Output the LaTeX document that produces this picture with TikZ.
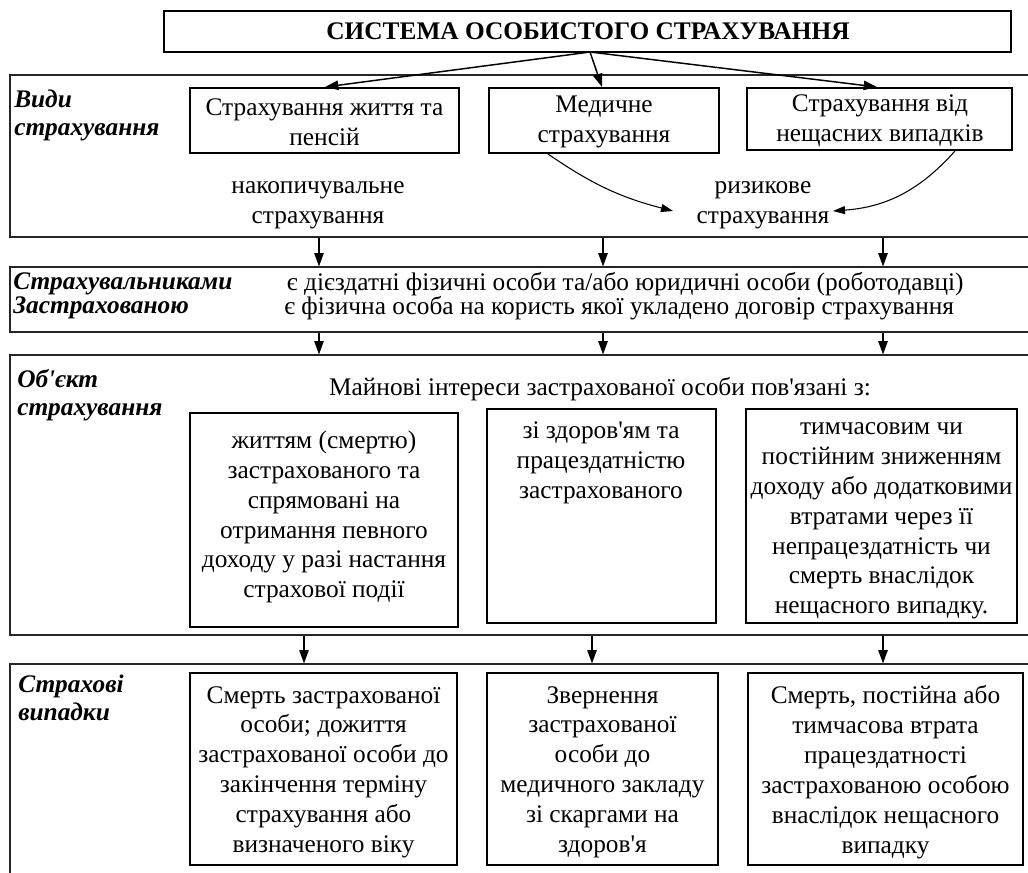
\documentclass[tikz,border=0pt]{standalone}
\usepackage{fontspec}
\setmainfont{Liberation Serif}[Ligatures=TeXOff]
\usetikzlibrary{arrows.meta,fit}

\newcommand{\bodyfont}{\fontsize{19}{22.4}\selectfont}
\newcommand{\pairfont}{\fontsize{19}{18}\selectfont\lineskiplimit=-50pt\relax}

\tikzset{
  band/.style={draw=black!85, line width=0.8pt, inner sep=0pt},
  box/.style={draw, line width=1.5pt, inner sep=0pt},
  lbl/.style={font=\fontsize{19}{21}\selectfont\bfseries\itshape, align=left, anchor=north west, inner sep=0pt},
  txt/.style={font=\bodyfont, align=center, inner sep=0pt},
  arr/.style={-{Triangle[length=10pt,width=7pt]}, line width=1.1pt},
  thinarr/.style={-{Triangle[length=9pt,width=6pt]}, line width=0.8pt},
}

\begin{document}
\begin{tikzpicture}[x=0.75pt,y=-0.75pt]
\clip (0,0) rectangle (1028,872);
\fill[white] (0,0) rectangle (1028,872);

% title
\node[box, fit={(164,11) (1011,52)}] (title) {};
\node[txt, font=\fontsize{19}{23}\selectfont\bfseries] (titlet) at (588,31)
  {СИСТЕМА ОСОБИСТОГО СТРАХУВАННЯ};

% horizontal bands
\node[band, fit={(10,75) (1045,237)}] (band1) {};
\node[band, fit={(10,267) (1045,332)}] (band2) {};
\node[band, fit={(10,355) (1045,635)}] (band3) {};
\node[band, fit={(10,664) (1045,900)}] (band4) {};

% band 1: kinds of insurance
\node[lbl] (l1) at (14,90) {Види\\страхування};
\node[box, fit={(190,88) (459,153)}] (v1) {};
\node[box, fit={(489,88) (719,153)}] (v2) {};
\node[box, fit={(747,88) (1012,150)}] (v3) {};
\node[txt] (v1t) at (324.5,122) {Страхування життя та\\пенсій};
\node[txt] (v2t) at (604,122) {Медичне\\страхування};
\node[txt] (v3t) at (880,121) {Страхування від\\нещасних випадків};
\node[txt] (acc) at (318,205) {накопичувальне\\страхування};
\node[txt] (risk) at (763,205) {ризикове\\страхування};

\coordinate (ts) at (590,52);
\draw[arr] (ts) -- (325,88 |- v1.north);
\draw[arr] (ts) -- (602,88 |- v2.north);
\draw[arr] (ts) -- (877,88 |- v3.north);

\coordinate (r1) at (673,211);
\coordinate (r2) at (833,211);
\draw[thinarr] (548,0 |- v2.south) to[bend right=10] (r1);
\draw[thinarr] (955,0 |- v3.south) to[bend left=22] (r2);

% band 2: parties
\node[lbl, anchor=west, font=\pairfont\bfseries\itshape] (l2) at (13,296)
  {Страхувальниками\\Застрахованою};
\node[txt, anchor=west, align=left, font=\pairfont] (p) at (284,296)
  {\hspace*{2pt}є дієздатні фізичні особи та/або юридичні особи (роботодавці)\\
   є фізична особа на користь якої укладено договір страхування};

% band 3: object of insurance
\node[lbl] (l3) at (17,369) {Об'єкт\\страхування};
\node[txt] (obj) at (600,389) {Майнові інтереси застрахованої особи пов'язані з:};
\node[box, fit={(190,413) (458,627)}] (o1) {};
\node[box, fit={(487,409) (716,623)}] (o2) {};
\node[box, fit={(746,409) (1017,623)}] (o3) {};
\node[txt] (o1t) at (324,517)
  {життям (смертю)\\застрахованого та\\спрямовані на\\отримання певного\\доходу у разі настання\\страхової події};
\node[txt] (o2t) at (601,463) {зі здоров'ям та\\працездатністю\\застрахованого};
\node[txt] (o3t) at (881.5,521)
  {тимчасовим чи\\постійним зниженням\\доходу або додатковими\\втратами через її\\непрацездатність чи\\смерть внаслідок\\нещасного випадку.};

% band 4: insured events
\node[lbl] (l4) at (18,675) {Страхові\\випадки};
\node[box, fit={(190,673) (457,865)}] (e1) {};
\node[box, fit={(487,673) (718,865)}] (e2) {};
\node[box, fit={(748,673) (1023,865)}] (e3) {};
\node[txt] (e1t) at (323.5,772)
  {Смерть застрахованої\\особи; дожиття\\застрахованої особи до\\закінчення терміну\\страхування або\\визначеного віку};
\node[txt] (e2t) at (602.5,772)
  {Звернення\\застрахованої\\особи до\\медичного закладу\\зі скаргами на\\здоров'я};
\node[txt] (e3t) at (885.5,772)
  {Смерть, постійна або\\тимчасова втрата\\працездатності\\застрахованою особою\\внаслідок нещасного\\випадку};

% arrows between bands
\foreach \x in {319,603,883} {
  \draw[arr] (\x,0 |- band1.south) -- (\x,0 |- band2.north);
  \draw[arr] (\x,0 |- band2.south) -- (\x,0 |- band3.north);
}
\foreach \x in {304,592,883} {
  \draw[arr] (\x,0 |- band3.south) -- (\x,0 |- band4.north);
}
\end{tikzpicture}
\end{document}
